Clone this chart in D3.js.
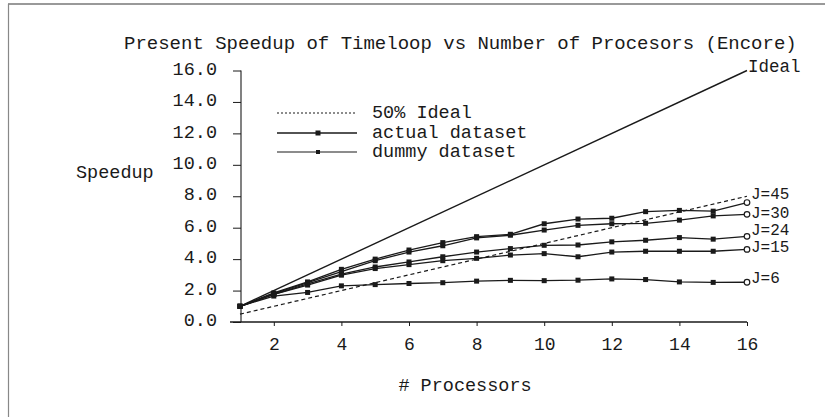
<!DOCTYPE html>
<html><head><meta charset="utf-8">
<script src="https://cdn.jsdelivr.net/npm/d3@7"></script>
<style>
body{margin:0;background:#fff}
svg{display:block}
text{font-family:"Liberation Mono","DejaVu Sans Mono",monospace;fill:#1a1a1a}
</style>
</head><body><svg id="c" width="825" height="417"></svg>
<script>
// ---- data ----
const procs = [1,2,3,4,5,6,7,8,9,10,11,12,13,14,15,16];
const j45 = [1.0,1.85,2.55,3.35,4.0,4.58,5.05,5.43,5.58,6.25,6.55,6.6,7.02,7.1,7.05,7.6];
const j30 = [1.0,1.8,2.5,3.2,3.9,4.45,4.85,5.35,5.52,5.85,6.15,6.25,6.28,6.48,6.75,6.85];
const j24 = [1.0,1.75,2.42,3.05,3.5,3.82,4.15,4.45,4.67,4.88,4.9,5.1,5.2,5.37,5.27,5.45];
const j15 = [1.0,1.75,2.35,2.98,3.4,3.65,3.9,4.05,4.26,4.35,4.15,4.45,4.5,4.5,4.5,4.62];
const j6  = [1.0,1.65,1.88,2.3,2.38,2.45,2.5,2.6,2.65,2.63,2.66,2.74,2.7,2.55,2.52,2.53];
const seriesNames = ["J=45","J=30","J=24","J=15","J=6"];
const refX = [1,16];
const idealY = [1,16];
const halfIdealY = [0.5,8];
const xTicks = [2,4,6,8,10,12,14,16];
const yTicks = [0,2,4,6,8,10,12,14,16];
const legendLabels = ["50% Ideal","actual dataset","dummy dataset"];
const titleText = "Present Speedup of Timeloop vs Number of Procesors (Encore)";
const xTitle = "# Processors";
const yTitle = "Speedup";

// ---- drawing ----
const svg = d3.select("#c");
const ink = "#1a1a1a";
const x = d3.scaleLinear().domain([1,16]).range([240,747]);
const y = d3.scaleLinear().domain([0,16]).range([322,70.5]);

// frame
svg.append("line").attr("x1",8).attr("x2",825).attr("y1",4).attr("y2",4).attr("stroke","#777").attr("stroke-width",1.5);
svg.append("line").attr("x1",8.5).attr("x2",8.5).attr("y1",4).attr("y2",417).attr("stroke","#888").attr("stroke-width",1.2);

svg.append("text").attr("x",124).attr("y",49).attr("font-size",19).text(titleText);

// y axis
const ya = svg.append("g").attr("transform","translate(241,0)")
  .call(d3.axisLeft(y).tickValues(yTicks).tickSize(8).tickPadding(16).tickFormat(d3.format(".1f")));
ya.select(".domain").remove();
ya.selectAll(".tick line").attr("stroke",ink);
ya.selectAll("text").attr("font-size",18.5).attr("font-family",null).attr("dy","0.2em").style("fill",ink);
svg.append("line").attr("x1",241).attr("x2",241).attr("y1",y(16)).attr("y2",322).attr("stroke",ink).attr("stroke-width",1.1);

// x axis
const xa = svg.append("g").attr("transform","translate(0,322)")
  .call(d3.axisBottom(x).tickValues(xTicks).tickSize(4).tickPadding(11).tickFormat(d3.format("d")));
xa.select(".domain").remove();
xa.selectAll(".tick line").attr("stroke",ink);
xa.selectAll("text").attr("font-size",18).attr("font-family",null).style("fill",ink);
svg.append("line").attr("x1",230).attr("x2",x(16)).attr("y1",322).attr("y2",322).attr("stroke",ink).attr("stroke-width",1.6);

svg.append("text").attr("x",465).attr("y",391).attr("text-anchor","middle").attr("font-size",18.5).text(xTitle);
svg.append("text").attr("x",76).attr("y",178).attr("font-size",18.5).text(yTitle);

// reference lines
const line2 = d3.line().x(d=>x(d[0])).y(d=>y(d[1]));
svg.append("path").attr("d",line2(d3.zip(refX,idealY))).attr("fill","none").attr("stroke",ink).attr("stroke-width",1.4);
svg.append("path").attr("d",line2(d3.zip(refX,halfIdealY))).attr("fill","none").attr("stroke",ink).attr("stroke-width",1.2).attr("stroke-dasharray","4,3");
svg.append("text").attr("x",x(16)+1).attr("y",y(16)+1.5).attr("font-size",17.5).text("Ideal");

// data series
const labelNudge = [-5,3,-2,2,0];
const data = [j45,j30,j24,j15,j6];
data.forEach((vals,i)=>{
  const pts = d3.zip(procs,vals);
  svg.append("path").attr("d",line2(pts)).attr("fill","none").attr("stroke",ink).attr("stroke-width",1.3);
  svg.selectAll(null).data(pts.slice(0,-1)).enter().append("rect")
    .attr("x",d=>x(d[0])-2.5).attr("y",d=>y(d[1])-2.5).attr("width",5).attr("height",5).attr("fill",ink);
  const last = pts[pts.length-1];
  svg.append("circle").attr("cx",x(last[0])).attr("cy",y(last[1])).attr("r",2.8).attr("fill","#fff").attr("stroke",ink).attr("stroke-width",1.2);
  svg.append("text").attr("x",x(last[0])+4).attr("y",y(last[1])+1+labelNudge[i]).attr("font-size",16).text(seriesNames[i]);
});

// legend
const legY = [113,133,152];
const lg = svg.append("g");
lg.append("line").attr("x1",277).attr("x2",357).attr("y1",legY[0]).attr("y2",legY[0]).attr("stroke",ink).attr("stroke-width",1.2).attr("stroke-dasharray","2,2");
lg.append("line").attr("x1",277).attr("x2",357).attr("y1",legY[1]).attr("y2",legY[1]).attr("stroke",ink).attr("stroke-width",1.3);
lg.append("rect").attr("x",315.5).attr("y",legY[1]-2.5).attr("width",5).attr("height",5).attr("fill",ink);
lg.append("line").attr("x1",277).attr("x2",357).attr("y1",legY[2]).attr("y2",legY[2]).attr("stroke",ink).attr("stroke-width",1.1);
lg.append("rect").attr("x",316).attr("y",legY[2]-2).attr("width",4).attr("height",4).attr("fill",ink);
legendLabels.forEach((t,i)=>{
  lg.append("text").attr("x",372).attr("y",legY[i]+5).attr("font-size",18.5).text(t);
});
</script></body></html>
